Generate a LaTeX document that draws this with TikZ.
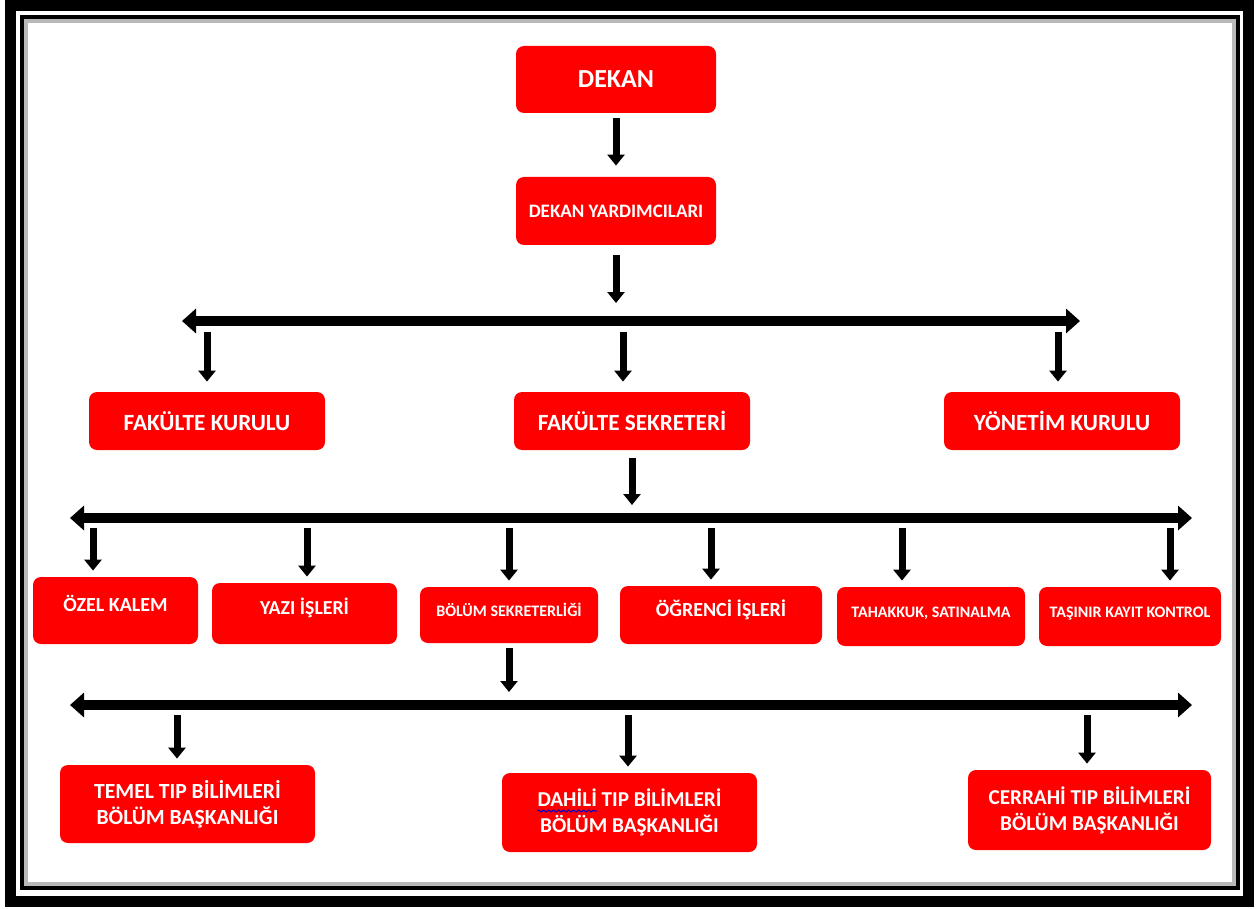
\documentclass[tikz,border=0pt]{standalone}
\usepackage{fontspec}
\setmainfont{Carlito}
\usetikzlibrary{arrows.meta, decorations.pathmorphing}

\begin{document}
\begin{tikzpicture}[x=0.5pt, y=-0.5pt,
    box/.style={fill=red, rounded corners=4pt, text=white, align=center, inner sep=0pt},
    fs/.style={font=\bfseries\fontsize{#1}{13}\selectfont},
    low/.style={text height=7pt, text depth=6pt},
    darr/.style={-{Triangle[width=8.5pt, length=5.5pt]}, line width=3.5pt},
    bararr/.style={{Triangle[width=12pt, length=7pt]}-{Triangle[width=12pt, length=7pt]}, line width=5pt}]
    \useasboundingbox (0,0) rectangle (1257,909);

    % Frame
    \draw[line width=5.5pt] (10.5,6) rectangle (1248,901.5);
    \draw[line width=2pt] (22,17) rectangle (1238,887.5);
    \draw[gray!55, line width=2pt] (26,21) rectangle (1234,883.5);

    % Top of the chart
    \node[box, fs=13, minimum width=100pt, minimum height=33.5pt] (dekan) at (616,79.5) {DEKAN};
    \node[box, fs=9.5, minimum width=100pt, minimum height=34pt] (yard) at (616,211) {DEKAN YARDIMCILARI};
    \draw[darr, shorten <=2.5pt, shorten >=5.5pt] (dekan.south) -- (yard.north);

    % First level
    \node[box, fs=11.6, minimum width=118pt, minimum height=29pt] (fk) at (207,421) {FAKÜLTE KURULU};
    \node[box, fs=11.6, minimum width=118pt, minimum height=29pt] (fs) at (632,421) {FAKÜLTE SEKRETERİ};
    \node[box, fs=11.6, minimum width=118pt, minimum height=29pt] (yk) at (1062,421) {YÖNETİM KURULU};

    \coordinate (b1l) at (182,321);
    \coordinate (b1r) at (1080,321);
    \draw[darr, shorten <=5pt, shorten >=9pt] (yard.south) -- (yard.south |- b1l);
    \draw[bararr] (b1l) -- (b1r);
    \foreach \n/\x in {fk/207, fs/623, yk/1058} {
      \coordinate (t\n) at (\x,321);
      \draw[darr, shorten <=5.5pt, shorten >=5pt] (t\n) -- (t\n |- \n.north);
    }

    % Second level
    \node[box, fs=10, low, minimum width=82.5pt, minimum height=33.5pt] (ozel) at (115.5,610.5) {ÖZEL KALEM};
    \node[box, fs=9.9, low, minimum width=92.5pt, minimum height=30.5pt] (yazi) at (304.5,613.5) {YAZI İŞLERİ};
    \node[box, fs=8, low, minimum width=89pt, minimum height=28pt] (bolum) at (509,615) {BÖLÜM SEKRETERLİĞİ};
    \node[box, fs=10, low, minimum width=101pt, minimum height=29pt] (ogr) at (721,615) {ÖĞRENCİ İŞLERİ};
    \node[box, fs=8, low, minimum width=94pt, minimum height=29.5pt] (tah) at (931,616.5) {TAHAKKUK, SATINALMA};
    \node[box, fs=8, low, minimum width=91pt, minimum height=29.5pt] (tas) at (1130,616.5) {TAŞINIR KAYIT KONTROL};

    \coordinate (b2l) at (70,518);
    \coordinate (b2r) at (1192,518);
    \draw[darr, shorten <=4pt, shorten >=6.5pt] (fs.south) -- (fs.south |- b2l);
    \draw[bararr] (b2l) -- (b2r);
    \foreach \n/\x in {ozel/93, yazi/307, bolum/509, ogr/711, tah/902, tas/1170} {
      \coordinate (t\n) at (\x,518);
      \draw[darr, shorten <=5pt, shorten >=3pt] (t\n) -- (t\n |- \n.north);
    }

    % Third level
    \node[box, fs=10.8, minimum width=127.5pt, minimum height=39pt] (temel) at (187.5,804) {TEMEL TIP BİLİMLERİ\\BÖLÜM BAŞKANLIĞI};
    \node[box, fs=10.6, minimum width=127.5pt, minimum height=39.5pt] (dahili) at (629.5,812.5) {DAHİLİ TIP BİLİMLERİ\\BÖLÜM BAŞKANLIĞI};
    \node[box, fs=10.6, minimum width=121.5pt, minimum height=40pt] (cerrahi) at (1089.5,810) {CERRAHİ TIP BİLİMLERİ\\BÖLÜM BAŞKANLIĞI};
    \draw[blue!80!black, line width=0.5pt, decorate, decoration={snake, amplitude=0.5pt, segment length=2.5pt}] (537,811) -- (597,811);

    \coordinate (b3l) at (70,705);
    \coordinate (b3r) at (1192,705);
    \draw[darr, shorten <=2.5pt, shorten >=6.5pt] (bolum.south) -- (bolum.south |- b3l);
    \draw[bararr] (b3l) -- (b3r);
    \foreach \n/\x in {temel/177, dahili/628, cerrahi/1087} {
      \coordinate (t\n) at (\x,705);
      \draw[darr, shorten <=5pt, shorten >=3pt] (t\n) -- (t\n |- \n.north);
    }

\end{tikzpicture}
\end{document}
